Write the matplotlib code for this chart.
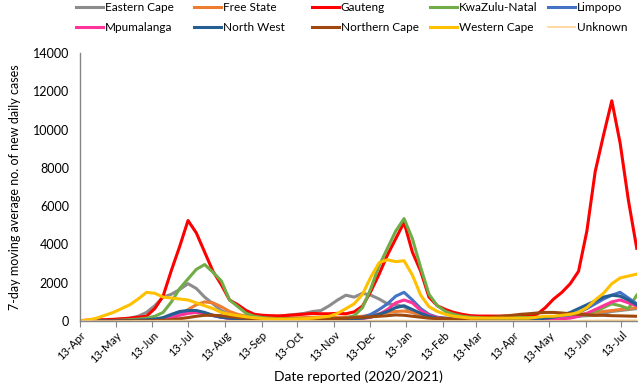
import numpy as np
import pandas as pd
import matplotlib
matplotlib.use("Agg")
import matplotlib.pyplot as plt
import matplotlib.dates as mdates

# weekly readings of the 7-day moving average, 13 Apr 2020 .. 26 Jul 2021
dates = pd.date_range("2020-04-13", periods=68, freq="7D")

eastern_cape = [10, 20, 30, 50, 70, 100, 150, 250, 450, 800, 1250, 1400, 1650, 1950, 1700, 1250, 900,
                550, 350, 250, 200, 150, 150, 200, 250, 300, 350, 400, 500, 550, 800, 1100, 1350, 1250,
                1450, 1350, 1150, 900, 850, 750, 450, 300, 200, 150, 130, 120, 110, 100, 100, 100, 100,
                100, 100, 110, 120, 130, 150, 170, 200, 220, 250, 280, 300, 400, 500, 550, 600, 650]
free_state = [0, 5, 5, 10, 10, 15, 20, 30, 40, 60, 100, 200, 350, 600, 850, 1000, 950, 750, 500, 350,
              250, 200, 180, 170, 160, 160, 170, 180, 200, 200, 200, 200, 200, 220, 250, 300, 380, 450,
              500, 520, 450, 350, 250, 180, 150, 130, 120, 110, 100, 100, 100, 100, 110, 120, 130, 150,
              170, 200, 250, 300, 350, 400, 450, 500, 550, 600, 650, 700]
gauteng = [20, 50, 60, 70, 90, 120, 150, 200, 250, 650, 1300, 2650, 3900, 5250, 4600, 3600, 2600, 1900,
           1100, 850, 550, 350, 300, 280, 270, 300, 330, 360, 400, 380, 380, 400, 380, 480, 780, 1550,
           2450, 3450, 4300, 5150, 3600, 2600, 1250, 800, 600, 450, 350, 280, 260, 260, 260, 260, 260,
           270, 280, 350, 700, 1150, 1500, 1950, 2600, 4700, 7800, 9700, 11500, 9300, 6300, 3800]
kwazulu_natal = [0, 5, 10, 20, 30, 50, 70, 100, 150, 250, 450, 1000, 1700, 2200, 2700, 2950, 2550, 2100,
                 1100, 750, 400, 250, 180, 150, 120, 120, 120, 120, 120, 120, 120, 130, 150, 280, 700,
                 1700, 2900, 3800, 4700, 5350, 4300, 2800, 1400, 800, 500, 350, 250, 200, 180, 180, 180,
                 180, 180, 180, 180, 180, 180, 180, 180, 200, 250, 350, 500, 700, 900, 800, 650, 1350]
limpopo = [0, 0, 5, 5, 10, 15, 20, 30, 50, 80, 150, 300, 450, 520, 480, 380, 280, 200, 150, 110, 90,
           80, 70, 70, 70, 70, 70, 70, 70, 80, 90, 100, 120, 150, 200, 350, 600, 900, 1300, 1500, 1100,
           650, 350, 200, 150, 120, 100, 90, 80, 80, 80, 80, 80, 80, 90, 100, 120, 150, 200, 300, 450,
           650, 900, 1150, 1350, 1500, 1200, 900]
mpumalanga = [0, 0, 0, 5, 5, 10, 10, 15, 20, 40, 80, 150, 300, 400, 450, 400, 300, 200, 130, 100, 80,
              70, 60, 60, 60, 60, 60, 60, 60, 70, 70, 80, 90, 100, 130, 200, 350, 600, 950, 1100, 950,
              550, 300, 180, 120, 100, 90, 80, 70, 60, 60, 60, 60, 60, 60, 70, 80, 100, 120, 150, 250,
              400, 600, 800, 1000, 1100, 950, 800]
north_west = [0, 0, 5, 10, 15, 20, 30, 40, 60, 100, 180, 350, 500, 550, 550, 450, 300, 200, 150, 110,
              90, 80, 70, 60, 60, 60, 60, 60, 70, 70, 80, 90, 100, 120, 150, 220, 350, 500, 700, 800,
              600, 400, 250, 150, 120, 100, 90, 80, 70, 70, 70, 70, 80, 80, 90, 100, 150, 200, 300, 450,
              650, 850, 1050, 1250, 1350, 1300, 1100, 850]
northern_cape = [0, 0, 0, 0, 5, 5, 10, 10, 15, 20, 40, 70, 120, 180, 250, 300, 300, 280, 230, 180, 150,
                 130, 120, 110, 100, 100, 100, 100, 100, 110, 120, 130, 150, 180, 200, 220, 250, 280, 320,
                 300, 250, 200, 150, 130, 120, 110, 110, 120, 150, 180, 220, 260, 300, 350, 380, 420, 450,
                 450, 420, 380, 350, 330, 300, 300, 280, 270, 260, 250]
western_cape = [10, 60, 150, 300, 450, 650, 850, 1150, 1500, 1450, 1250, 1200, 1150, 1100, 950, 800, 650,
                450, 350, 280, 220, 170, 130, 110, 100, 100, 110, 120, 150, 200, 250, 400, 650, 900, 1400,
                2300, 3050, 3200, 3100, 3150, 2400, 1350, 750, 500, 350, 250, 200, 150, 150, 150, 150, 150,
                150, 150, 150, 200, 250, 250, 300, 350, 450, 700, 1100, 1450, 1950, 2250, 2350, 2450]
unknown = [0, 0, 0, 0, 0, 5, 5, 10, 10, 10, 15, 20, 20, 20, 20, 15, 15, 10, 10, 10, 10, 10, 10, 10, 10,
           10, 10, 10, 10, 10, 10, 10, 10, 10, 15, 20, 25, 30, 30, 25, 20, 15, 10, 10, 10, 10, 10, 10,
           10, 10, 10, 10, 10, 10, 10, 10, 10, 10, 10, 15, 20, 25, 30, 35, 40, 40, 40, 40]

series = [
    ("Eastern Cape", eastern_cape, "#8C8C8C", 2.2),
    ("Free State", free_state, "#ED7D31", 2.2),
    ("Gauteng", gauteng, "#FF0000", 2.2),
    ("KwaZulu-Natal", kwazulu_natal, "#70AD47", 2.2),
    ("Limpopo", limpopo, "#4472C4", 2.2),
    ("Mpumalanga", mpumalanga, "#FF3399", 2.2),
    ("North West", north_west, "#255E91", 2.2),
    ("Northern Cape", northern_cape, "#9E480E", 2.2),
    ("Western Cape", western_cape, "#FFC000", 2.2),
    ("Unknown", unknown, "#FFD28F", 1.2),
]

plt.rcParams['font.family'] = ['Lato', 'DejaVu Sans']

fig = plt.figure(figsize=(6.38, 3.92), dpi=100)
ax = fig.add_axes([0.1254, 0.181, 0.8726, 0.684])

handles = []
for name, vals, col, lw in series:
    line, = ax.plot(dates, vals, color=col, lw=lw, label=name, solid_joinstyle="round")
    handles.append(line)

ax.set_ylim(0, 14000)
ax.set_yticks(np.arange(0, 14001, 2000))
ax.set_xlim(pd.Timestamp("2020-04-13"), pd.Timestamp("2021-07-26"))
ticks = pd.date_range("2020-04-01", "2021-07-01", freq="MS") + pd.Timedelta(days=12)
ax.set_xticks(ticks)
ax.xaxis.set_major_formatter(mdates.DateFormatter("%d-%b"))
plt.setp(ax.get_xticklabels(), rotation=45, ha="right", rotation_mode="anchor")

for s in ["top", "right"]:
    ax.spines[s].set_visible(False)
for s in ["left", "bottom"]:
    ax.spines[s].set_color("#868686")
    ax.spines[s].set_linewidth(1.0)
ax.tick_params(axis="y", length=0, labelsize=9, pad=8)
ax.tick_params(axis="x", length=4, color="#868686", labelsize=8, pad=2)

ax.set_xlabel("Date reported (2020/2021)", fontsize=10)
ax.set_ylabel("7-day moving average no. of new daily cases", fontsize=9, labelpad=8)

# legend: 5 equal-width columns of two entries each
for c in range(5):
    pair = [handles[c], handles[c + 5]]
    fig.legend(pair, [h.get_label() for h in pair],
               loc="upper left", bbox_to_anchor=((76 + 118 * c) / 638, 0.995),
               frameon=False, fontsize=8.5, handlelength=2.3, handletextpad=0.15,
               labelspacing=0.75, borderpad=0, borderaxespad=0)

fig.savefig("out.png", dpi=100)
